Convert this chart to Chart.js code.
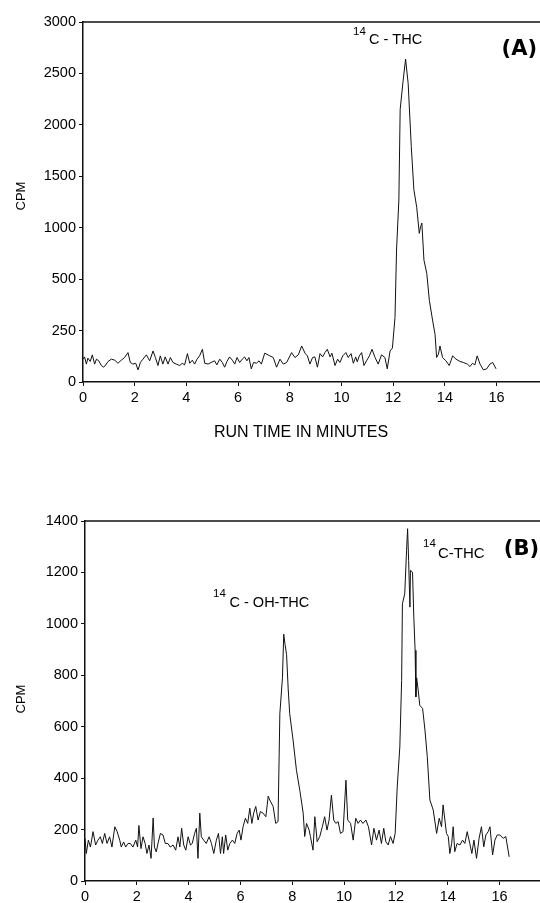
<!DOCTYPE html>
<html>
<head>
<meta charset="utf-8">
<script src="https://cdn.jsdelivr.net/npm/chart.js@4.4.1/dist/chart.umd.min.js"></script>
<style>
  html, body { margin: 0; padding: 0; background: #fff; }
  body { width: 540px; height: 903px; position: relative; overflow: hidden; }
  canvas { position: absolute; left: 0; }
  #cA { top: 0; }
  #cB { top: 450px; }
</style>
</head>
<body>
<canvas id="cA" width="540" height="450"></canvas>
<canvas id="cB" width="540" height="453"></canvas>
<script>
// ---------- DATA ----------
const xTicks = [0, 2, 4, 6, 8, 10, 12, 14, 16];
const yTicksA = [0, 250, 500, 1000, 1500, 2000, 2500, 3000];
const yTicksB = [0, 200, 400, 600, 800, 1000, 1200, 1400];

const timesA = [0.00,0.06,0.13,0.19,0.28,0.36,0.45,0.52,0.61,0.71,0.80,0.88,0.97,1.10,1.23,1.35,1.48,1.61,1.74,1.83,
  1.93,2.04,2.13,2.22,2.32,2.45,2.58,2.71,2.80,2.90,2.99,3.09,3.18,3.29,3.38,3.48,3.61,3.74,3.84,3.93,
  4.04,4.13,4.23,4.32,4.41,4.51,4.62,4.71,4.84,4.96,5.09,5.18,5.29,5.39,5.48,5.57,5.67,5.78,5.87,5.96,
  6.06,6.16,6.25,6.34,6.42,6.51,6.60,6.71,6.81,6.90,7.03,7.23,7.36,7.49,7.62,7.75,7.88,8.07,8.20,8.33,
  8.46,8.59,8.68,8.78,8.88,8.97,9.07,9.17,9.27,9.36,9.45,9.56,9.63,9.75,9.85,9.94,10.05,10.17,10.26,10.37,
  10.46,10.55,10.61,10.69,10.78,10.87,10.97,11.08,11.18,11.30,11.42,11.55,11.68,11.77,11.88,11.97,12.07,12.13,12.22,12.27,
  12.38,12.48,12.58,12.70,12.80,12.91,13.01,13.06,13.11,13.19,13.30,13.40,13.53,13.62,13.68,13.75,13.81,13.91,14.04,14.17,
  14.30,14.43,14.58,14.71,14.87,14.97,15.07,15.16,15.25,15.36,15.49,15.62,15.74,15.85,15.98];
const cpmA = [111,122,87,116,100,132,87,111,103,80,72,83,100,111,106,91,106,119,143,95,
  87,91,59,95,111,132,103,151,119,80,127,87,122,87,119,95,87,80,91,83,
  138,91,106,87,111,127,159,91,87,95,103,83,111,95,72,100,122,106,87,119,
  95,111,122,103,119,64,95,91,103,87,140,127,119,72,111,87,95,143,119,132,
  175,140,127,87,119,122,72,138,122,143,159,122,140,80,111,95,127,143,119,138,
  91,122,98,127,143,80,103,127,159,119,87,132,119,64,151,165,313,783,1270,2150,
  2420,2640,2400,1790,1370,1200,945,1010,1045,685,555,396,296,231,119,135,175,119,103,80,
  127,111,100,95,87,75,91,83,127,87,59,64,87,95,64];

const timesB = [0.00,0.05,0.13,0.21,0.31,0.41,0.50,0.59,0.67,0.76,0.85,0.95,1.04,1.15,1.24,1.34,1.40,1.49,1.57,1.66,
  1.75,1.85,1.96,2.03,2.08,2.16,2.24,2.32,2.39,2.47,2.55,2.63,2.68,2.75,2.83,2.91,3.01,3.10,3.20,3.29,
  3.40,3.50,3.59,3.66,3.73,3.81,3.89,3.98,4.07,4.14,4.23,4.30,4.36,4.43,4.49,4.58,4.68,4.79,4.88,4.97,
  5.07,5.15,5.23,5.30,5.35,5.43,5.51,5.59,5.69,5.78,5.87,5.95,6.02,6.10,6.19,6.28,6.36,6.44,6.51,6.59,
  6.68,6.77,6.87,6.98,7.07,7.13,7.26,7.36,7.45,7.52,7.62,7.67,7.72,7.78,7.84,7.90,8.03,8.16,8.29,8.42,
  8.48,8.55,8.65,8.70,8.80,8.87,8.96,9.06,9.16,9.25,9.34,9.42,9.51,9.60,9.68,9.77,9.86,9.96,10.07,10.14,
  10.25,10.35,10.45,10.54,10.63,10.73,10.84,10.94,11.06,11.15,11.25,11.35,11.44,11.53,11.61,11.70,11.79,11.89,11.97,12.05,
  12.15,12.22,12.25,12.34,12.41,12.45,12.49,12.54,12.56,12.64,12.69,12.74,12.77,12.80,12.86,12.92,13.03,13.12,13.21,13.31,
  13.44,13.57,13.67,13.76,13.82,13.89,13.95,14.02,14.08,14.15,14.21,14.27,14.36,14.47,14.57,14.66,14.75,14.85,14.93,15.01,
  15.11,15.21,15.30,15.39,15.47,15.56,15.63,15.73,15.82,15.91,16.01,16.14,16.24,16.37];
const cpmB = [165,107,159,132,192,140,159,172,146,185,146,172,132,211,192,159,132,152,132,146,
  146,132,159,132,216,126,172,146,107,140,88,245,132,113,152,185,179,146,146,132,
  140,120,172,132,205,140,120,172,140,146,185,205,88,264,172,159,146,172,146,107,
  159,185,107,172,107,179,120,146,159,146,185,198,159,211,244,224,283,224,264,290,
  237,270,264,250,330,315,290,224,231,651,790,960,920,880,750,651,548,431,353,264,
  173,224,198,173,120,250,153,173,211,250,198,237,334,237,224,231,185,192,392,237,
  224,159,244,224,237,224,237,211,140,205,159,198,146,205,153,140,173,146,185,366,
  521,780,1078,1117,1285,1370,1246,1065,1208,1201,1026,897,716,790,742,683,671,587,483,315,
  276,185,244,211,296,237,185,173,107,146,211,114,146,140,159,146,192,146,107,159,
  88,166,211,133,179,192,211,101,159,179,179,166,173,94];

// ---------- custom piecewise scale (axis A has a 0-250-500 expanded bottom) ----------
class BrokenLinearScale extends Chart.LinearScale {
  getPixelForValue(value) {
    const b = yTicksA, n = b.length - 1;
    let idx = n;
    if (value <= b[0]) idx = (value - b[0]) / (b[1] - b[0]);
    else {
      for (let i = 0; i < n; i++) {
        if (value <= b[i + 1]) { idx = i + (value - b[i]) / (b[i + 1] - b[i]); break; }
      }
    }
    return this.getPixelForDecimal(idx / n);
  }
  getValueForPixel(pixel) {
    const b = yTicksA, n = b.length - 1;
    const d = this.getDecimalForPixel(pixel) * n;
    const i = Math.min(n - 1, Math.max(0, Math.floor(d)));
    return b[i] + (d - i) * (b[i + 1] - b[i]);
  }
}
BrokenLinearScale.id = 'brokenLinear';
BrokenLinearScale.defaults = Chart.LinearScale.defaults;
Chart.register(BrokenLinearScale);

// ---------- helpers ----------
const FONT = "'Liberation Sans', Arial, Helvetica, sans-serif";
const INK = '#111';

function pts(xs, ys) { return xs.map((x, i) => ({ x: x, y: ys[i] })); }

function xScale(max, h) {
  return {
    type: 'linear', min: 0, max: max,
    afterBuildTicks: s => { s.ticks = xTicks.map(v => ({ value: v })); },
    afterFit: s => { s.height = h; },
    ticks: { color: '#000', font: { family: FONT, size: 14.5 }, padding: 3, maxRotation: 0, autoSkip: false, callback: v => String(v) },
    grid: { display: true, drawOnChartArea: false, drawTicks: true, tickLength: 4, color: INK, lineWidth: 1 },
    border: { display: true, color: INK, width: 1.5 }
  };
}
function yScale(type, ticks, w) {
  return {
    type: type, min: ticks[0], max: ticks[ticks.length - 1],
    afterBuildTicks: s => { s.ticks = ticks.map(v => ({ value: v })); },
    afterFit: s => { s.width = w; },
    ticks: { color: '#000', font: { family: FONT, size: 14.5 }, padding: 3, autoSkip: false, callback: v => String(v) },
    grid: { display: true, drawOnChartArea: false, drawTicks: true, tickLength: 4, color: INK, lineWidth: 1 },
    border: { display: true, color: INK, width: 1.5 }
  };
}

function annotPlugin(items) {
  return {
    id: 'annot',
    afterDraw(chart) {
      const ctx = chart.ctx, a = chart.chartArea;
      ctx.save();
      // top frame line
      ctx.strokeStyle = INK; ctx.lineWidth = 1.5;
      ctx.beginPath(); ctx.moveTo(a.left, a.top); ctx.lineTo(a.right, a.top); ctx.stroke();
      ctx.fillStyle = '#000';
      items.forEach(it => {
        ctx.save();
        ctx.font = it.font;
        ctx.textAlign = it.align || 'left';
        ctx.textBaseline = 'alphabetic';
        ctx.translate(it.x, it.y);
        if (it.rot) ctx.rotate(it.rot);
        ctx.fillText(it.text, 0, 0);
        ctx.restore();
      });
      ctx.restore();
    }
  };
}

const lineDs = (data) => ({
  data: data, borderColor: INK, borderWidth: 1, pointRadius: 0, tension: 0, fill: false
});

// ---------- chart A ----------
new Chart(document.getElementById('cA'), {
  type: 'line',
  data: { datasets: [lineDs(pts(timesA, cpmA))] },
  options: {
    responsive: false, animation: false, events: [],
    layout: { padding: { top: 22, left: 0, right: 0, bottom: 0 } },
    plugins: { legend: { display: false }, tooltip: { enabled: false } },
    scales: { x: xScale(17.68, 68), y: yScale('brokenLinear', yTicksA, 83) }
  },
  plugins: [annotPlugin([
    { text: '14', x: 353, y: 35, font: '11.5px ' + FONT },
    { text: 'C - THC', x: 369, y: 43.5, font: '14.5px ' + FONT },
    { text: '(A)', x: 537, y: 55, align: 'right', font: 'bold 21px "DejaVu Sans", Verdana, sans-serif' },
    { text: 'RUN TIME IN MINUTES', x: 301, y: 436.5, align: 'center', font: '16px ' + FONT },
    { text: 'CPM', x: 24.5, y: 196, align: 'center', rot: -Math.PI / 2, font: '13px ' + FONT }
  ])]
});

// ---------- chart B ----------
new Chart(document.getElementById('cB'), {
  type: 'line',
  data: { datasets: [lineDs(pts(timesB, cpmB))] },
  options: {
    responsive: false, animation: false, events: [],
    layout: { padding: { top: 71, left: 0, right: 0, bottom: 0 } },
    plugins: { legend: { display: false }, tooltip: { enabled: false } },
    scales: { x: xScale(17.56, 22), y: yScale('linear', yTicksB, 85) }
  },
  plugins: [annotPlugin([
    { text: '14', x: 213, y: 147, font: '11.5px ' + FONT },
    { text: 'C - OH-THC', x: 229.5, y: 157, font: '14.5px ' + FONT },
    { text: '14', x: 423, y: 96.5, font: '11.5px ' + FONT },
    { text: 'C-THC', x: 438, y: 108, font: '15px ' + FONT },
    { text: '(B)', x: 539, y: 105, align: 'right', font: 'bold 21px "DejaVu Sans", Verdana, sans-serif' },
    { text: 'CPM', x: 25, y: 249, align: 'center', rot: -Math.PI / 2, font: '13px ' + FONT }
  ])]
});
</script>
</body>
</html>
